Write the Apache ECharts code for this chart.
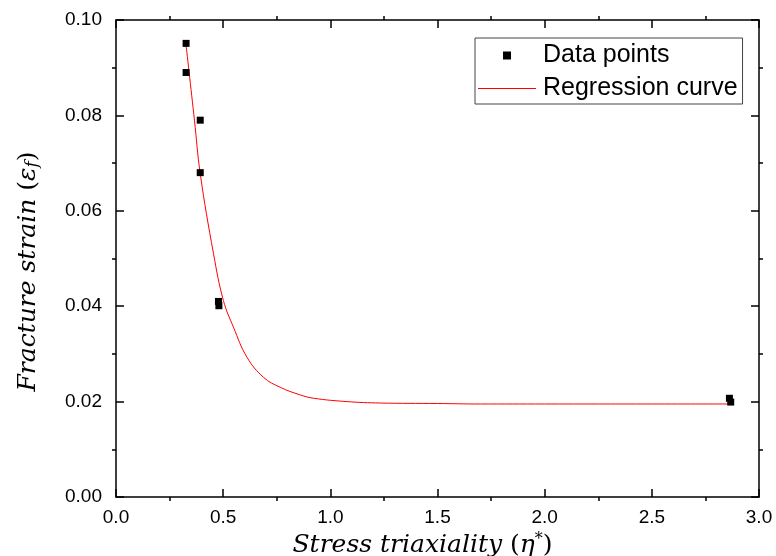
<!DOCTYPE html>
<html>
<head>
<meta charset="utf-8">
<script src="https://cdn.jsdelivr.net/npm/echarts@6/dist/echarts.min.js"></script>
<style>html,body{margin:0;padding:0;background:#fff;}#c{width:776px;height:556px;}</style>
</head>
<body>
<div id="c"></div>
<script>
// Data points
const pointX = [0.327, 0.327, 0.393, 0.393, 0.478, 0.480, 2.862, 2.868];
const pointY = [0.0951, 0.0890, 0.0790, 0.0680, 0.0410, 0.0401, 0.0207, 0.0199];
// Regression curve samples
const curveX = [0.327, 0.366, 0.393, 0.455, 0.501, 0.548, 0.611, 0.688, 0.766, 0.860, 0.922, 1.078, 1.234, 1.500, 1.700, 2.000, 2.500, 2.868];
const curveY = [0.0947, 0.0790, 0.0678, 0.0510, 0.0412, 0.0356, 0.0293, 0.0251, 0.0230, 0.0214, 0.0207, 0.0200, 0.0197, 0.0196, 0.0195, 0.0195, 0.0195, 0.0195];
const xTicks = ['0.0','0.5','1.0','1.5','2.0','2.5','3.0'];
const yTicks = ['0.00','0.02','0.04','0.06','0.08','0.10'];

const lineStyleAxis = {color:'#000', width:1.5};
const sans = 'Liberation Sans, Arial, sans-serif';
const serif = 'DejaVu Serif, Liberation Serif, serif';

function xAx(pos, showLabel){
  return {
    type:'value', position:pos, min:0, max:3, interval:0.5,
    axisLine:{show:true, onZero:false, lineStyle:lineStyleAxis},
    axisTick:{show:true, inside:true, length:8, lineStyle:{color:'#000', width:1.5}},
    minorTick:{show:true, splitNumber:2, length:-4, lineStyle:{color:'#000', width:1.5}},
    splitLine:{show:false}, minorSplitLine:{show:false},
    axisLabel:{show:showLabel, color:'#000', fontFamily:sans, fontSize:19, margin:11,
      formatter:function(v){ const i=Math.round(v/0.5); return xTicks[i]; }}
  };
}
function yAx(pos, showLabel){
  return {
    type:'value', position:pos, min:0, max:0.1, interval:0.02,
    axisLine:{show:true, onZero:false, lineStyle:lineStyleAxis},
    axisTick:{show:true, inside:true, length:8, lineStyle:{color:'#000', width:1.5}},
    minorTick:{show:true, splitNumber:2, length:-4, lineStyle:{color:'#000', width:1.5}},
    splitLine:{show:false}, minorSplitLine:{show:false},
    axisLabel:{show:showLabel, color:'#000', fontFamily:sans, fontSize:19, margin:14,
      formatter:function(v){ const i=Math.round(v/0.02); return yTicks[i]; }}
  };
}

const xBottom = xAx('bottom', true);
xBottom.name = '{i|Stress triaxiality }{r|(}{i|η}{s|*}{e|)}';
xBottom.nameLocation = 'middle';
xBottom.nameGap = 32;
xBottom.nameTextStyle = {rich:{
  i:{fontFamily:serif, fontStyle:'italic', fontSize:25, color:'#000'},
  r:{fontFamily:serif, fontSize:25, color:'#000'},
  e:{fontFamily:serif, fontSize:25, color:'#000', padding:[0,30,0,0]},
  s:{fontFamily:serif, fontSize:16, color:'#000', padding:[0,0,12,0]}
}};
const yLeft = yAx('left', true);
yLeft.name = '{i|Fracture strain }{r|(}{i|ε}{s|f}{e|)}';
yLeft.nameLocation = 'middle';
yLeft.nameGap = 75;
yLeft.nameRotate = 90;
yLeft.nameTextStyle = {rich:{
  i:{fontFamily:serif, fontStyle:'italic', fontSize:25, color:'#000'},
  r:{fontFamily:serif, fontSize:25, color:'#000'},
  e:{fontFamily:serif, fontSize:25, color:'#000', padding:[0,26,0,0]},
  s:{fontFamily:serif, fontStyle:'italic', fontSize:17, color:'#000', padding:[8,0,0,0]}
}};

const option = {
  backgroundColor:'#fff',
  animation:false,
  grid:{left:116, right:17, top:20, bottom:59, containLabel:false, outerBoundsMode:'none'},
  xAxis:[xBottom, xAx('top', false)],
  yAxis:[yLeft, yAx('right', false)],
  legend:{
    left:475, top:38, orient:'vertical',
    borderColor:'#444', borderWidth:1, borderRadius:0,
    padding:[5,5,3,3], itemGap:8, itemWidth:58, itemHeight:8,
    textStyle:{fontFamily:sans, fontSize:25, color:'#000', padding:[0,0,0,2]},
    data:[
      {name:'Data points', icon:'path://M0,0L7,0L7,7L0,7Z', itemStyle:{color:'#000', opacity:1}},
      {name:'Regression curve', icon:'path://M0,0L58,0L58,1L0,1Z', itemStyle:{color:'#ff0000'}}
    ]
  },
  series:[
    {
      name:'Regression curve', type:'line', xAxisIndex:0, yAxisIndex:0,
      data: curveX.map((x,i)=>[x, curveY[i]]),
      smooth:0.4, symbol:'none', showSymbol:false,
      lineStyle:{color:'#ff0000', width:1}, itemStyle:{color:'#ff0000'}, z:2
    },
    {
      name:'Data points', type:'scatter', xAxisIndex:0, yAxisIndex:0,
      data: pointX.map((x,i)=>[x, pointY[i]]),
      symbol:'rect', symbolSize:7, itemStyle:{color:'#000', opacity:1}, z:3
    }
  ]
};
const chart = echarts.init(document.getElementById('c'), null, {renderer:'canvas'});
chart.setOption(option);
</script>
</body>
</html>
